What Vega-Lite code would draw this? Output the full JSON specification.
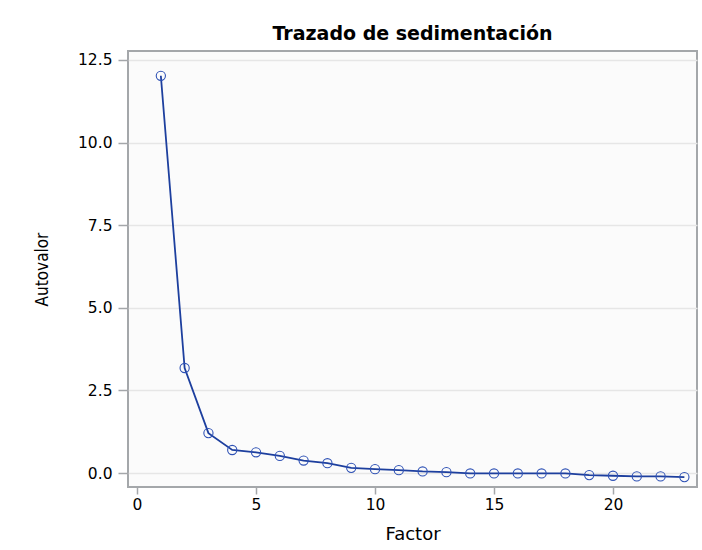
{
  "$schema": "https://vega.github.io/schema/vega-lite/v6.json",
  "width": 569,
  "height": 436,
  "autosize": {"type": "none"},
  "padding": {"left": 128, "top": 51, "right": 5, "bottom": 63},
  "background": "white",
  "title": {
    "text": "Trazado de sedimentación",
    "font": "DejaVu Sans",
    "fontSize": 19,
    "fontWeight": "bold",
    "color": "#000000",
    "anchor": "middle",
    "baseline": "alphabetic",
    "offset": -8
  },
  "config": {
    "view": {"stroke": "#a4a7aa", "strokeWidth": 2, "fill": "#fbfbfb"},
    "axis": {
      "domain": false,
      "tickColor": "#a4a7aa",
      "tickWidth": 1.5,
      "labelFont": "DejaVu Sans",
      "labelFontSize": 15.5,
      "labelColor": "#000000",
      "titleColor": "#000000",
      "titleFontWeight": "normal",
      "gridColor": "#e6e6e6",
      "gridWidth": 1.5
    },
    "axisX": {
      "titleFont": "DejaVu Sans, Liberation Sans, sans-serif",
      "titleFontSize": 18
    },
    "axisY": {
      "titleFont": "Liberation Sans Narrow, DejaVu Sans Condensed, Liberation Sans, sans-serif",
      "titleFontSize": 17
    }
  },
  "data": {
    "values": [
      {"factor": 1, "autovalor": 12.02},
      {"factor": 2, "autovalor": 3.18},
      {"factor": 3, "autovalor": 1.21},
      {"factor": 4, "autovalor": 0.70},
      {"factor": 5, "autovalor": 0.63},
      {"factor": 6, "autovalor": 0.52},
      {"factor": 7, "autovalor": 0.38},
      {"factor": 8, "autovalor": 0.30},
      {"factor": 9, "autovalor": 0.16},
      {"factor": 10, "autovalor": 0.12},
      {"factor": 11, "autovalor": 0.09},
      {"factor": 12, "autovalor": 0.05},
      {"factor": 13, "autovalor": 0.03},
      {"factor": 14, "autovalor": -0.01},
      {"factor": 15, "autovalor": -0.01},
      {"factor": 16, "autovalor": -0.01},
      {"factor": 17, "autovalor": -0.01},
      {"factor": 18, "autovalor": -0.01},
      {"factor": 19, "autovalor": -0.06},
      {"factor": 20, "autovalor": -0.08},
      {"factor": 21, "autovalor": -0.10},
      {"factor": 22, "autovalor": -0.10},
      {"factor": 23, "autovalor": -0.12}
    ]
  },
  "encoding": {
    "x": {
      "field": "factor",
      "type": "quantitative",
      "scale": {"domain": [-0.38, 23.53], "nice": false, "zero": false},
      "axis": {
        "title": "Factor",
        "values": [0, 5, 10, 15, 20],
        "grid": false,
        "tickSize": 7,
        "labelPadding": 3,
        "titlePadding": 13
      }
    },
    "y": {
      "field": "autovalor",
      "type": "quantitative",
      "scale": {"domain": [-0.42, 12.77], "nice": false, "zero": false},
      "axis": {
        "title": "Autovalor",
        "values": [0, 2.5, 5, 7.5, 10, 12.5],
        "format": ".1f",
        "grid": true,
        "tickSize": 10,
        "labelPadding": 6,
        "titlePadding": 26
      }
    }
  },
  "layer": [
    {
      "mark": {"type": "line", "color": "#1d3f9e", "strokeWidth": 1.8}
    },
    {
      "mark": {"type": "point", "shape": "circle", "filled": false, "color": "#2f52b5", "size": 85, "strokeWidth": 1.1, "opacity": 1}
    }
  ]
}
